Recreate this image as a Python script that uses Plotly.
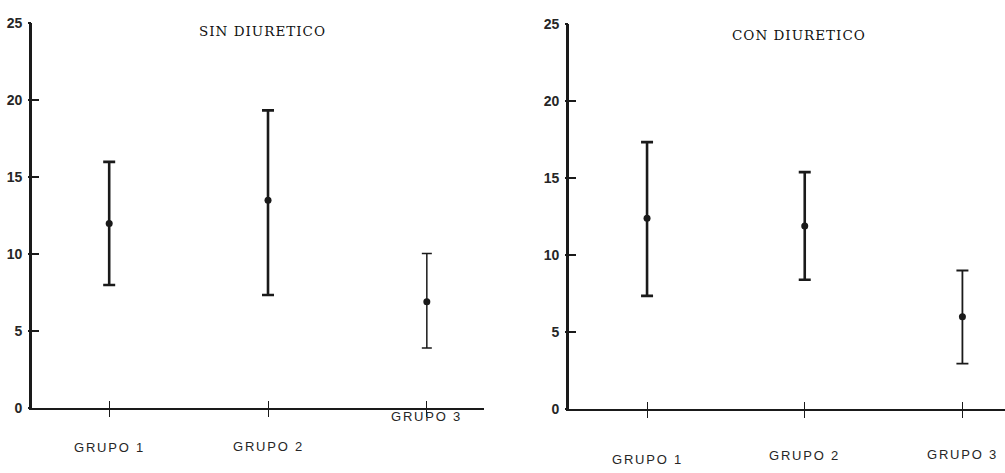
import plotly.graph_objects as go

# Groups and summary values (mean with lower / upper limits)
groups = ["GRUPO 1", "GRUPO 2", "GRUPO 3"]

sin_mean = [12.0, 13.5, 6.9]
sin_low = [8.0, 7.35, 3.9]
sin_high = [16.0, 19.35, 10.05]

con_mean = [12.4, 11.9, 6.0]
con_low = [7.35, 8.4, 2.95]
con_high = [17.35, 15.4, 9.0]

panel_titles = ["SIN DIURETICO", "CON DIURETICO"]
y_ticks = [0, 5, 10, 15, 20, 25]

W, H = 1005, 473
INK = "#1a1a1a"
TEXT = "#262626"


def px_x(p):
    return p / W


def px_y(p):
    return (H - p) / H


fig = go.Figure()

panels = [
    dict(mean=sin_mean, low=sin_low, high=sin_high, xa="x", ya="y",
         widths=[2.6, 2.6, 1.5], caps=[6, 6, 5]),
    dict(mean=con_mean, low=con_low, high=con_high, xa="x2", ya="y2",
         widths=[2.6, 2.6, 1.8], caps=[6, 6, 6]),
]

for pnl in panels:
    for i, g in enumerate(groups):
        m = pnl["mean"][i]
        fig.add_trace(go.Scatter(
            x=[g], y=[m],
            xaxis=pnl["xa"], yaxis=pnl["ya"],
            mode="markers",
            marker=dict(color=INK, size=7),
            error_y=dict(
                type="data", symmetric=False,
                array=[pnl["high"][i] - m],
                arrayminus=[m - pnl["low"][i]],
                color=INK, thickness=pnl["widths"][i], width=pnl["caps"][i],
            ),
            showlegend=False, hoverinfo="skip",
        ))

y_common = dict(
    range=[0, 25], tickvals=y_ticks,
    showline=True, linecolor=INK, linewidth=2.6, mirror=False,
    ticks="inside", ticklen=7, tickwidth=1.6, tickcolor=INK,
    showgrid=False, zeroline=False,
    tickfont=dict(family="Liberation Sans", size=14, color=TEXT,
                  weight="bold"),
    ticklabelstandoff=4,
)

x_common = dict(
    type="category", categoryarray=groups,
    showline=True, linecolor=INK, linewidth=2.2,
    ticks="outside", ticklen=7, tickwidth=1.4, tickcolor=INK,
    showticklabels=False, showgrid=False, zeroline=False,
)

# pixel extents of the two plotting areas
lx0, lx1, ly0, ly1 = 32, 484, 16, 414
rx0, rx1, ry0, ry1 = 569, 1005, 17, 415

overlay_x = dict(type="category", categoryarray=groups,
                 ticks="inside", ticklen=7, tickwidth=1.4, tickcolor=INK,
                 showticklabels=False, showline=False, showgrid=False,
                 zeroline=False)
overlay_y = dict(range=[0, 25], tickvals=y_ticks,
                 ticks="outside", ticklen=3, tickwidth=1.6, tickcolor=INK,
                 showticklabels=False, showline=False, showgrid=False,
                 zeroline=False)

fig.update_layout(
    width=W, height=H,
    margin=dict(l=0, r=0, t=0, b=0),
    paper_bgcolor="white", plot_bgcolor="white",
    xaxis=dict(domain=[px_x(lx0), px_x(lx1)], anchor="y",
               range=[-0.486, 2.36], **x_common),
    yaxis=dict(domain=[px_y(ly1), px_y(ly0)], anchor="x", **y_common),
    xaxis2=dict(domain=[px_x(rx0), px_x(rx1)], anchor="y2",
                range=[-0.495, 2.27], **x_common),
    yaxis2=dict(domain=[px_y(ry1), px_y(ry0)], anchor="x2", **y_common),
    # overlay axes give the ticks the part that crosses each axis line
    xaxis3=dict(overlaying="x", anchor="y", range=[-0.486, 2.36],
                **overlay_x),
    xaxis4=dict(overlaying="x2", anchor="y2", range=[-0.495, 2.27],
                **overlay_x),
    yaxis3=dict(overlaying="y", anchor="x", **overlay_y),
    yaxis4=dict(overlaying="y2", anchor="x2", **overlay_y),
)

# invisible traces so the overlay axes are drawn
for xa, ya in (("x3", "y3"), ("x4", "y4")):
    fig.add_trace(go.Scatter(x=groups, y=[None] * 3, xaxis=xa, yaxis=ya,
                             mode="markers", showlegend=False,
                             hoverinfo="skip"))

# panel titles in a slab-serif face
title_pos = [(262, 23.5), (799, 27.5)]
for t, (cx, cy) in zip(panel_titles, title_pos):
    fig.add_annotation(
        text=f'<span style="letter-spacing:1px">{t}</span>',
        x=px_x(cx), y=px_y(cy), xref="paper", yref="paper",
        xanchor="center", yanchor="middle", showarrow=False,
        font=dict(family="DejaVu Serif", size=13.5, color="#111111"))

# group labels under each axis
label_y = [[455, 454, 423], [467, 463, 462]]
for k, xref in enumerate(["x", "x2"]):
    for i, g in enumerate(groups):
        fig.add_annotation(
            text=f'<span style="letter-spacing:1.8px">{g}</span>',
            x=g, y=px_y(label_y[k][i]), xref=xref, yref="paper",
            xanchor="center", yanchor="middle", showarrow=False,
            font=dict(family="Liberation Sans", size=13, color=TEXT),
        )

fig.write_html("out.html")
